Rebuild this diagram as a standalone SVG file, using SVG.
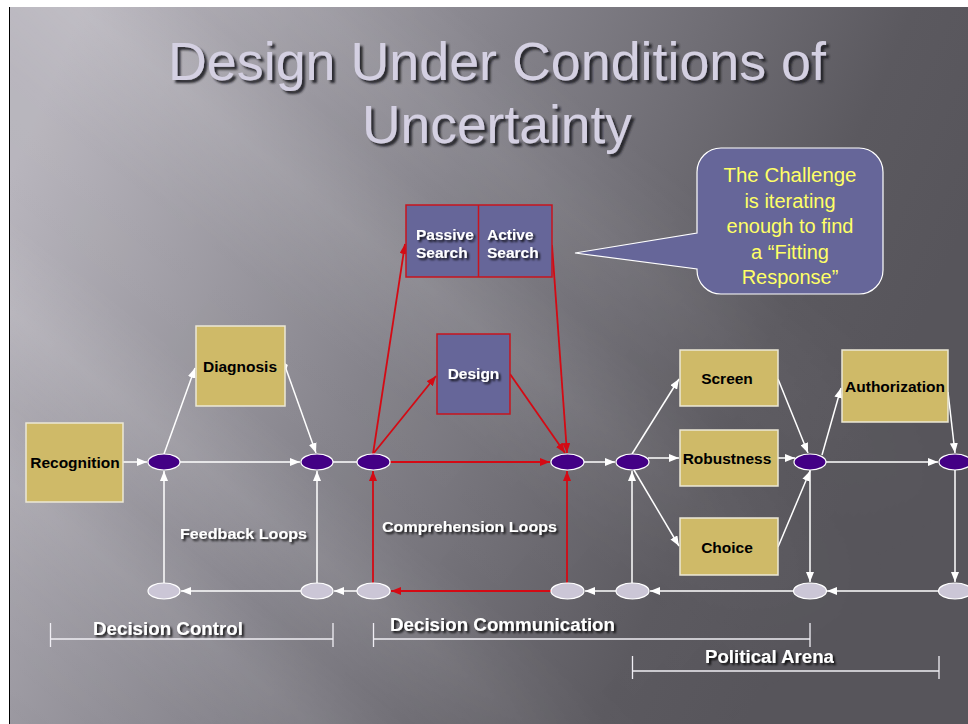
<svg xmlns="http://www.w3.org/2000/svg" width="968" height="724" viewBox="0 0 968 724">
  <defs>
    <linearGradient id="bg" gradientUnits="userSpaceOnUse" x1="60" y1="60" x2="880" y2="420">
      <stop offset="0" stop-color="#b7b4bc"/>
      <stop offset="0.45" stop-color="#84828a"/>
      <stop offset="0.85" stop-color="#5b595f"/>
      <stop offset="1" stop-color="#57555b"/>
    </linearGradient>
    <linearGradient id="bands" gradientUnits="userSpaceOnUse" x1="0" y1="724" x2="760" y2="-226">
      <stop offset="0" stop-color="#ffffff" stop-opacity="0"/>
      <stop offset="0.10" stop-color="#ffffff" stop-opacity="0.04"/>
      <stop offset="0.16" stop-color="#ffffff" stop-opacity="0.10"/>
      <stop offset="0.21" stop-color="#ffffff" stop-opacity="0.02"/>
      <stop offset="0.27" stop-color="#ffffff" stop-opacity="0.12"/>
      <stop offset="0.33" stop-color="#ffffff" stop-opacity="0.02"/>
      <stop offset="0.42" stop-color="#ffffff" stop-opacity="0.03"/>
      <stop offset="0.50" stop-color="#ffffff" stop-opacity="0.12"/>
      <stop offset="0.56" stop-color="#ffffff" stop-opacity="0.03"/>
      <stop offset="0.62" stop-color="#ffffff" stop-opacity="0.07"/>
      <stop offset="0.70" stop-color="#ffffff" stop-opacity="0"/>
      <stop offset="1" stop-color="#ffffff" stop-opacity="0"/>
    </linearGradient>
    <linearGradient id="fade" gradientUnits="userSpaceOnUse" x1="100" y1="100" x2="800" y2="700">
      <stop offset="0" stop-color="#ffffff"/>
      <stop offset="0.55" stop-color="#ffffff" stop-opacity="0.8"/>
      <stop offset="1" stop-color="#ffffff" stop-opacity="0"/>
    </linearGradient>
    <mask id="bandMask">
      <rect x="0" y="0" width="968" height="724" fill="url(#fade)"/>
    </mask>
    <filter id="shadow" x="-10%" y="-30%" width="130%" height="170%">
      <feDropShadow dx="2" dy="2" stdDeviation="0.8" flood-color="#000" flood-opacity="0.85"/>
    </filter>
    <filter id="titleShadow" x="-10%" y="-30%" width="130%" height="170%">
      <feDropShadow dx="3" dy="3" stdDeviation="1.2" flood-color="#1e1d22" flood-opacity="0.9"/>
    </filter>
    <marker id="aw" markerUnits="userSpaceOnUse" markerWidth="10" markerHeight="8" refX="10" refY="4" orient="auto">
      <path d="M0,0 L10,4 L0,8 Z" fill="#ffffff"/>
    </marker>
    <marker id="ar" markerUnits="userSpaceOnUse" markerWidth="10" markerHeight="8" refX="10" refY="4" orient="auto">
      <path d="M0,0 L10,4 L0,8 Z" fill="#d40a14"/>
    </marker>
    <marker id="dot" markerUnits="userSpaceOnUse" markerWidth="8" markerHeight="8" refX="4" refY="4" orient="auto">
      <path d="M0,4 L4,1 L8,4 L4,7 Z" fill="#ffffff"/>
    </marker>
    <style>
      .box { fill: #cfba68; stroke: #ece8d6; stroke-width: 1.5; }
      .pbox { fill: #666699; stroke: #c8141e; stroke-width: 1.5; }
      .dk { fill: #430085; stroke: #ffffff; stroke-width: 1.2; }
      .lt { fill: #cbc6d6; stroke: #ffffff; stroke-width: 1.2; }
      .w { fill: none; stroke: #ffffff; stroke-width: 1.5; }
      .r { fill: none; stroke: #d40a14; stroke-width: 1.8; }
      .bl { font-family: "Liberation Sans", Arial, sans-serif; font-weight: bold; font-size: 15.5px; fill: #000; text-anchor: middle; }
      .wl { font-family: "Liberation Sans", Arial, sans-serif; font-weight: bold; font-size: 15.5px; fill: #fff; filter: url(#shadow); }
      .lbl { font-family: "Liberation Sans", Arial, sans-serif; font-weight: bold; fill: #fff; filter: url(#shadow); }
      .brk { fill: none; stroke: #f0eef4; stroke-width: 1.3; }
      .title { font-family: "Liberation Sans Narrow", "Liberation Sans", Arial, sans-serif; font-size: 53px; fill: #d4d0e2; text-anchor: middle; filter: url(#titleShadow); }
      .call { font-family: "Liberation Sans", Arial, sans-serif; font-size: 20px; fill: #ffff66; text-anchor: middle; }
    </style>
  </defs>

  <!-- page and slide background -->
  <rect x="0" y="0" width="968" height="724" fill="#ffffff"/>
  <rect x="10" y="7" width="958" height="717" fill="url(#bg)"/>
  <rect x="10" y="7" width="958" height="717" fill="url(#bands)" mask="url(#bandMask)"/>
  <line x1="9.5" y1="7" x2="9.5" y2="724" stroke="#000" stroke-width="1"/>

  <!-- title -->
  <g id="title">
    <text class="title" x="497" y="80" textLength="658" lengthAdjust="spacingAndGlyphs">Design Under Conditions of</text>
    <text class="title" x="497" y="143" textLength="270" lengthAdjust="spacingAndGlyphs">Uncertainty</text>
  </g>

  <!-- callout -->
  <g id="callout">
    <path d="M721,148 H859 A24 24 0 0 1 883,172 V270 A24 24 0 0 1 859,294 H721 A24 24 0 0 1 697,270 V269 L575,253 L697,233 V172 A24 24 0 0 1 721,148 Z" fill="#666699" stroke="#ffffff" stroke-width="1.2"/>
    <text class="call" x="790" y="182" textLength="133" lengthAdjust="spacingAndGlyphs">The Challenge</text>
    <text class="call" x="790" y="207.5">is iterating</text>
    <text class="call" x="790" y="233">enough to find</text>
    <text class="call" x="790" y="258.5">a “Fitting</text>
    <text class="call" x="790" y="284">Response”</text>
  </g>

  <!-- connectors -->
  <g id="connectors">
    <path class="w" d="M123,462 L147,462" marker-end="url(#aw)"/>
    <path class="w" d="M164,454 L195,368" marker-end="url(#aw)"/>
    <path class="w" d="M285,366 L316,453" marker-start="url(#dot)" marker-end="url(#aw)"/>
    <path class="w" d="M180,462 L300,462" marker-end="url(#aw)"/>
    <path class="w" d="M333,462 L357,462"/>
    <path class="w" d="M164,583 L164,471" marker-end="url(#aw)"/>
    <path class="w" d="M317,583 L317,471" marker-end="url(#aw)"/>
    <path class="w" d="M301,591 L181,591" marker-end="url(#aw)"/>
    <path class="w" d="M357,591 L334,591" marker-end="url(#aw)"/>

    <path class="r" d="M373,454 L405,244" marker-end="url(#ar)"/>
    <path class="r" d="M373,454 L436,376" marker-end="url(#ar)"/>
    <path class="r" d="M390,462 L550,462" marker-end="url(#ar)"/>
    <path class="r" d="M510,374 L565,453" marker-end="url(#ar)"/>
    <path class="r" d="M552,245 L567,453" marker-end="url(#ar)"/>
    <path class="r" d="M373,583 L373,471" marker-end="url(#ar)"/>
    <path class="r" d="M567,583 L567,471" marker-end="url(#ar)"/>
    <path class="r" d="M551,591 L391,591" marker-end="url(#ar)"/>

    <path class="w" d="M584,462 L615,462" marker-end="url(#aw)"/>
    <path class="w" d="M616,591 L585,591" marker-end="url(#aw)"/>
    <path class="w" d="M632,454 L679,379" marker-end="url(#aw)"/>
    <path class="w" d="M648,458 L679,458" marker-end="url(#aw)"/>
    <path class="w" d="M634,470 L679,546" marker-end="url(#aw)"/>
    <path class="w" d="M632,583 L632,471" marker-end="url(#aw)"/>
    <path class="w" d="M778,379 L808,453" marker-end="url(#aw)"/>
    <path class="w" d="M778,458 L795,458" marker-end="url(#aw)"/>
    <path class="w" d="M778,547 L810,471" marker-end="url(#aw)"/>
    <path class="w" d="M822,455 L841,388" marker-end="url(#aw)"/>
    <path class="w" d="M948,392 L955,453" marker-end="url(#aw)"/>
    <path class="w" d="M826,462 L938,462" marker-end="url(#aw)"/>
    <path class="w" d="M810,470 L810,582" marker-end="url(#aw)"/>
    <path class="w" d="M955,470 L955,582" marker-end="url(#aw)"/>
    <path class="w" d="M939,591 L827,591" marker-end="url(#aw)"/>
    <path class="w" d="M794,591 L650,591" marker-end="url(#aw)"/>
  </g>

  <!-- process boxes -->
  <g id="recognition">
    <rect class="box" x="26" y="423" width="97" height="79"/>
    <text class="bl" x="75" y="468">Recognition</text>
  </g>
  <g id="diagnosis">
    <rect class="box" x="196" y="326" width="89" height="80"/>
    <text class="bl" x="240" y="372">Diagnosis</text>
  </g>
  <g id="search">
    <rect class="pbox" x="406" y="205" width="146" height="72"/>
    <line x1="478.5" y1="205" x2="478.5" y2="277" stroke="#c8141e" stroke-width="1.5"/>
    <text class="wl" x="416" y="240">Passive</text>
    <text class="wl" x="416" y="258">Search</text>
    <text class="wl" x="487" y="240">Active</text>
    <text class="wl" x="487" y="258">Search</text>
  </g>
  <g id="design">
    <rect class="pbox" x="437" y="334" width="73" height="80"/>
    <text class="wl" x="473.5" y="379" text-anchor="middle">Design</text>
  </g>
  <g id="screen">
    <rect class="box" x="680" y="350" width="98" height="56"/>
    <text class="bl" x="727" y="384">Screen</text>
  </g>
  <g id="robustness">
    <rect class="box" x="680" y="430" width="98" height="56"/>
    <text class="bl" x="727" y="464">Robustness</text>
  </g>
  <g id="choice">
    <rect class="box" x="680" y="518" width="98" height="57"/>
    <text class="bl" x="727" y="553">Choice</text>
  </g>
  <g id="authorization">
    <rect class="box" x="842" y="350" width="106" height="72"/>
    <text class="bl" x="895" y="392">Authorization</text>
  </g>

  <!-- decision points (upper row) -->
  <g id="d1"><ellipse class="dk" cx="164" cy="462" rx="16" ry="8"/></g>
  <g id="d2"><ellipse class="dk" cx="317" cy="462" rx="16" ry="8"/></g>
  <g id="d3"><ellipse class="dk" cx="373.5" cy="462" rx="16.5" ry="8"/></g>
  <g id="d4"><ellipse class="dk" cx="567.5" cy="462" rx="16.5" ry="8"/></g>
  <g id="d5"><ellipse class="dk" cx="632.5" cy="462" rx="16.5" ry="8"/></g>
  <g id="d6"><ellipse class="dk" cx="810" cy="462" rx="16" ry="8"/></g>
  <g id="d7"><ellipse class="dk" cx="955" cy="462" rx="16" ry="8"/></g>

  <!-- return points (lower row) -->
  <g id="b1"><ellipse class="lt" cx="164" cy="591" rx="16" ry="8"/></g>
  <g id="b2"><ellipse class="lt" cx="317" cy="591" rx="16" ry="8"/></g>
  <g id="b3"><ellipse class="lt" cx="373.5" cy="591" rx="16.5" ry="8"/></g>
  <g id="b4"><ellipse class="lt" cx="567.5" cy="591" rx="16.5" ry="8"/></g>
  <g id="b5"><ellipse class="lt" cx="632.5" cy="591" rx="16.5" ry="8"/></g>
  <g id="b6"><ellipse class="lt" cx="810" cy="591" rx="16.5" ry="8"/></g>
  <g id="b7"><ellipse class="lt" cx="955" cy="591" rx="16.5" ry="8"/></g>

  <!-- loop labels -->
  <g id="loop-labels">
    <text class="lbl" x="180" y="539" font-size="15.5" textLength="127" lengthAdjust="spacingAndGlyphs">Feedback Loops</text>
    <text class="lbl" x="382" y="532" font-size="15.5" textLength="175" lengthAdjust="spacingAndGlyphs">Comprehension Loops</text>
  </g>

  <!-- phase brackets -->
  <g id="phases">
    <path class="brk" d="M50.5,623 V647 M50.5,639 H333 M333,623 V647"/>
    <text class="lbl" x="93" y="635" font-size="17.5" textLength="150" lengthAdjust="spacingAndGlyphs">Decision Control</text>
    <path class="brk" d="M373.5,623 V647 M373.5,639 H810 M810,623 V647"/>
    <text class="lbl" x="390" y="631" font-size="17.5" textLength="225" lengthAdjust="spacingAndGlyphs">Decision Communication</text>
    <path class="brk" d="M632.5,656 V679 M632.5,671 H939 M939,656 V679"/>
    <text class="lbl" x="705" y="663" font-size="17.5" textLength="129" lengthAdjust="spacingAndGlyphs">Political Arena</text>
  </g>
</svg>
